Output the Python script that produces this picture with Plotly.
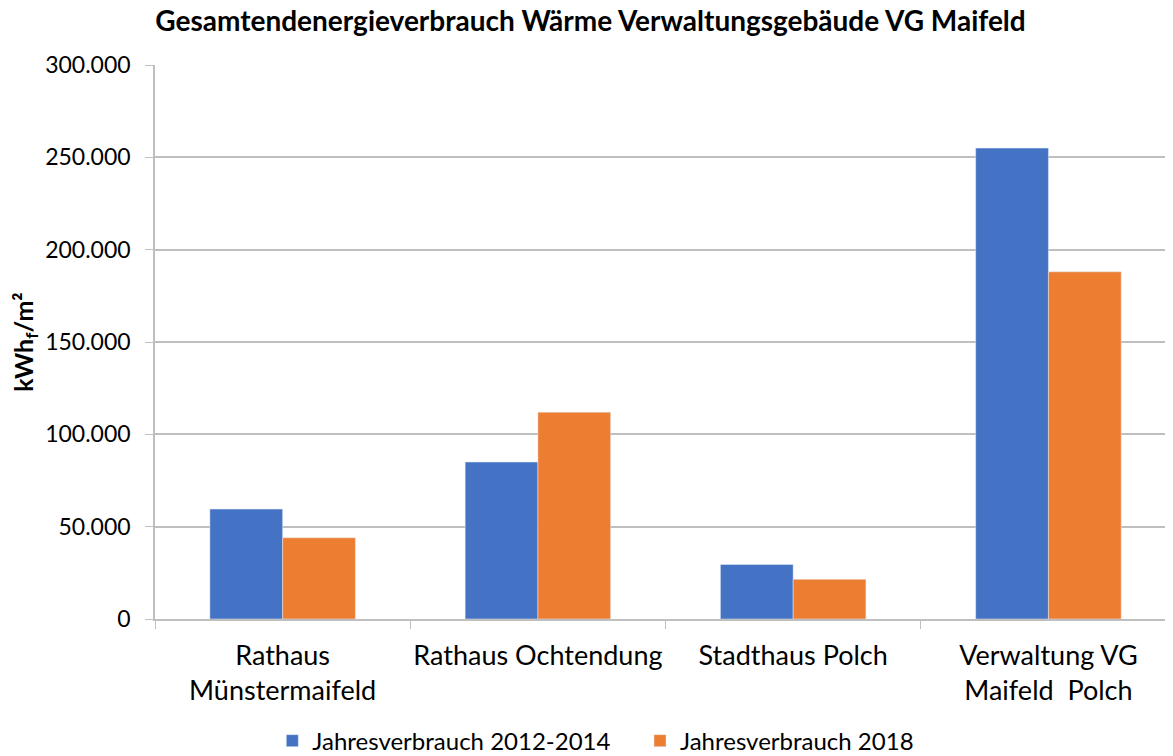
import plotly.graph_objects as go

categories = ["Rathaus<br>Münstermaifeld", "Rathaus Ochtendung", "Stadthaus Polch", "Verwaltung VG<br>Maifeld  Polch"]
series_2012_2014 = [59500, 85000, 29500, 255000]
series_2018 = [44000, 112000, 21500, 188000]
series_names = ["Jahresverbrauch 2012-2014", "Jahresverbrauch 2018"]
y_ticks = [0, 50000, 100000, 150000, 200000, 250000, 300000]
y_tick_labels = ["0", "50.000", "100.000", "150.000", "200.000", "250.000", "300.000"]

FONT = "Lato"
NB = "\u00a0"
fig = go.Figure()
fig.add_trace(go.Bar(x=categories, y=series_2012_2014, name=series_names[0] + NB * 4, marker_color="#4472C4"))
fig.add_trace(go.Bar(x=categories, y=series_2018, name=series_names[1], marker_color="#ED7D31"))

fig.update_layout(
    width=1165, height=748,
    paper_bgcolor="white", plot_bgcolor="white",
    barmode="group", bargap=0.43, bargroupgap=0,
    margin=dict(l=147, r=0, t=57, b=137),
    font=dict(family=FONT, color="#000000", size=22),
    title=dict(text="<b>Gesamtendenergieverbrauch Wärme Verwaltungsgebäude VG Maifeld</b>",
               x=0.5, xanchor="center", y=0.995, yanchor="top", pad=dict(t=0, b=0),
               font=dict(family=FONT, size=28, color="#000000")),
    legend=dict(orientation="h", x=0.433, xanchor="center", yref="container", y=0.02, yanchor="middle",
                font=dict(family=FONT, size=24), itemwidth=30, traceorder="normal"),
    showlegend=True,
)
fig.update_xaxes(type="category", range=[-0.5, 3.488], showline=True, linecolor="#bfbfbf", linewidth=1.5,
                 ticks="outside", tickson="boundaries", ticklen=8, tickcolor="#bfbfbf",
                 tickfont=dict(family=FONT, size=27), tickangle=0, showgrid=False, automargin=False,
                 ticklabelstandoff=12)
fig.update_yaxes(range=[0, 300000], tickvals=y_ticks, ticktext=y_tick_labels,
                 showline=True, linecolor="#bfbfbf", linewidth=1.5,
                 ticks="outside", ticklen=8, tickcolor="#bfbfbf",
                 showgrid=True, gridcolor="#bfbfbf", gridwidth=1.5, zeroline=False,
                 tickfont=dict(family=FONT, size=23), automargin=False, ticklabelstandoff=10,
                 title=dict(text="<b>kWh<sub>f</sub>/m²</b>", font=dict(family=FONT, size=25), standoff=18))

fig.write_html("out.html")
